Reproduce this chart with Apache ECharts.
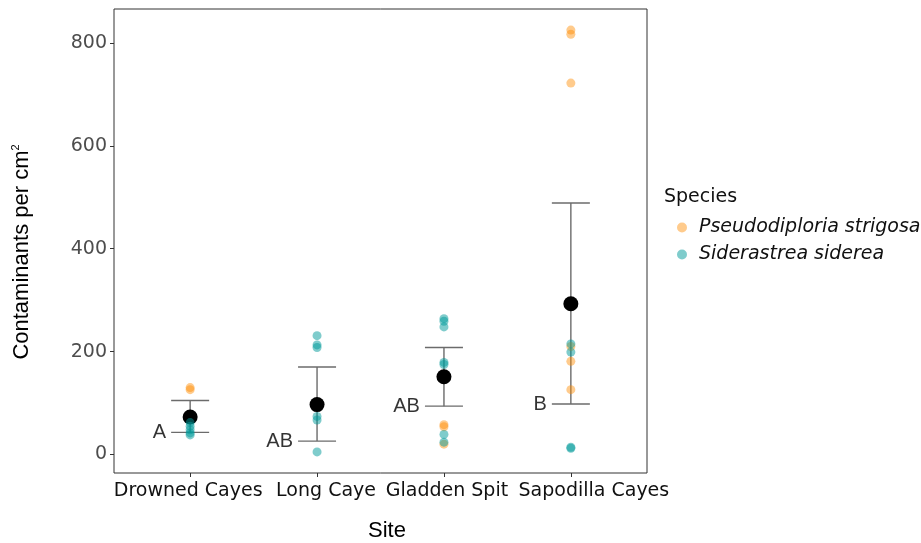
<!DOCTYPE html>
<html>
<head>
<meta charset="utf-8">
<script src="https://cdn.jsdelivr.net/npm/echarts@6/dist/echarts.min.js"></script>
<style>
html,body{margin:0;padding:0;background:#fff;}
#chart{width:921px;height:543px;}
</style>
</head>
<body>
<div id="chart"></div>
<script>
// ---- data ----
var sites = ['Drowned Cayes', 'Long Caye', 'Gladden Spit', 'Sapodilla Cayes'];
var speciesNames = ['Pseudodiploria strigosa', 'Siderastrea siderea'];
// values per site (same order as sites)
var strigosaValues = [[130, 126], [], [58, 54, 20], [825, 817, 722, 210, 181, 126]];
var sidereaValues = [[62, 55, 48, 42, 38], [231, 213, 208, 74, 67, 5], [264, 259, 248, 179, 175, 39, 24], [215, 199, 14, 12]];
var meanValues = [73, 97, 151, 293];
var upperValues = [105, 170, 208, 489];
var lowerValues = [43, 26, 94, 98];
var groupLetters = ['A', 'AB', 'AB', 'B'];
var yTicks = [0, 200, 400, 600, 800];

// ---- build ----
var yMin = -36, yMax = 866;
var labelShift = [-2, 9, 3, 23]; // horizontal nudge of site labels (px), style only
function toPoints(arr) {
  var out = [];
  arr.forEach(function (vals, i) {
    vals.forEach(function (v) { out.push([i + 1, v]); });
  });
  return out;
}
var siteIdx = sites.map(function (s, i) { return i + 1; });
var errData = sites.map(function (s, i) { return [i + 1, lowerValues[i], upperValues[i]]; });
var meanData = sites.map(function (s, i) { return [i + 1, meanValues[i]]; });
var letterData = sites.map(function (s, i) { return { value: [i + 1, lowerValues[i]], label: { formatter: groupLetters[i] } }; });
var siteLabelData = sites.map(function (s, i) { return [i + 1, yMin]; });

var chart = echarts.init(document.getElementById('chart'), null, { renderer: 'canvas' });
var sansV = 'DejaVu Sans';
var sansA = 'Liberation Sans';

chart.setOption({
  animation: false,
  backgroundColor: '#ffffff',
  grid: { left: 114, top: 9, right: 274, bottom: 70, show: true, borderColor: '#333333', borderWidth: 1, backgroundColor: 'transparent' },
  xAxis: {
    type: 'value', min: 0.4, max: 4.6,
    axisLine: { show: false, onZero: false },
    splitLine: { show: false },
    axisTick: { show: true, customValues: siteIdx, length: 4, lineStyle: { color: '#333333' } },
    axisLabel: { show: false }
  },
  yAxis: {
    type: 'value', min: yMin, max: yMax,
    axisLine: { show: false, onZero: false },
    splitLine: { show: false },
    axisTick: { show: true, customValues: yTicks, length: 4, lineStyle: { color: '#333333' } },
    axisLabel: { customValues: yTicks, margin: 7, color: '#4D4D4D', fontFamily: sansV, fontSize: 19 }
  },
  legend: {
    orient: 'vertical', left: 672, top: 213,
    itemWidth: 10, itemHeight: 10, itemGap: 8,
    data: speciesNames.map(function (n) { return { name: n, icon: 'circle' }; }),
    textStyle: { fontFamily: sansV, fontSize: 19, fontStyle: 'italic', color: '#111111', padding: [0, 0, 0, 7] },
    selectedMode: false
  },
  graphic: [
    { type: 'text', left: 664, top: 188, style: { text: 'Species', fontFamily: sansV, fontSize: 19, fill: '#111111' } },
    { type: 'text', x: 387, y: 531, style: { text: 'Site', fontFamily: sansA, fontSize: 22, fill: '#000000', align: 'center', verticalAlign: 'middle' } },
    { type: 'text', x: 22, y: 252, rotation: Math.PI / 2,
      style: { text: '{a|Contaminants per cm}{s|2}', align: 'center', verticalAlign: 'middle',
        rich: { a: { fontFamily: sansA, fontSize: 22, fill: '#000000' }, s: { fontFamily: sansA, fontSize: 11, fill: '#000000', verticalAlign: 'top', padding: [0, 0, 12, 0] } } } }
  ],
  series: [
    {
      type: 'custom', name: 'errorbar', data: errData, z: 2,
      renderItem: function (params, api) {
        var x = api.value(0);
        var lo = api.coord([x, api.value(1)]);
        var hi = api.coord([x, api.value(2)]);
        var hw = 19;
        var st = { stroke: '#6b6b6b', lineWidth: 1.4 };
        return {
          type: 'group', children: [
            { type: 'line', shape: { x1: lo[0], y1: lo[1], x2: hi[0], y2: hi[1] }, style: st },
            { type: 'line', shape: { x1: lo[0] - hw, y1: lo[1], x2: lo[0] + hw, y2: lo[1] }, style: st },
            { type: 'line', shape: { x1: hi[0] - hw, y1: hi[1], x2: hi[0] + hw, y2: hi[1] }, style: st }
          ]
        };
      }
    },
    { type: 'scatter', name: 'mean', data: meanData, symbolSize: 15, itemStyle: { color: '#000000', opacity: 1 }, z: 3 },
    { type: 'scatter', name: speciesNames[0], data: toPoints(strigosaValues), symbolSize: 9, itemStyle: { color: '#FF8C00', opacity: 0.45 }, z: 4 },
    { type: 'scatter', name: speciesNames[1], data: toPoints(sidereaValues), symbolSize: 9, itemStyle: { color: '#009999', opacity: 0.5 }, z: 4 },
    {
      type: 'scatter', name: 'letters', data: letterData, symbolSize: 0, z: 5, silent: true,
      label: { show: true, position: 'left', distance: 24, fontFamily: sansA, fontSize: 20, color: '#000000' }
    },
    {
      type: 'custom', name: 'siteLabels', data: siteLabelData, z: 5, silent: true, clip: false,
      renderItem: function (params, api) {
        var p = api.coord([api.value(0), api.value(1)]);
        return {
          type: 'text',
          style: {
            x: p[0] + labelShift[params.dataIndex], y: p[1] + 9,
            text: sites[params.dataIndex], align: 'center', verticalAlign: 'top',
            fontFamily: sansV, fontSize: 19, fill: '#111111'
          }
        };
      }
    }
  ]
});
</script>
</body>
</html>
